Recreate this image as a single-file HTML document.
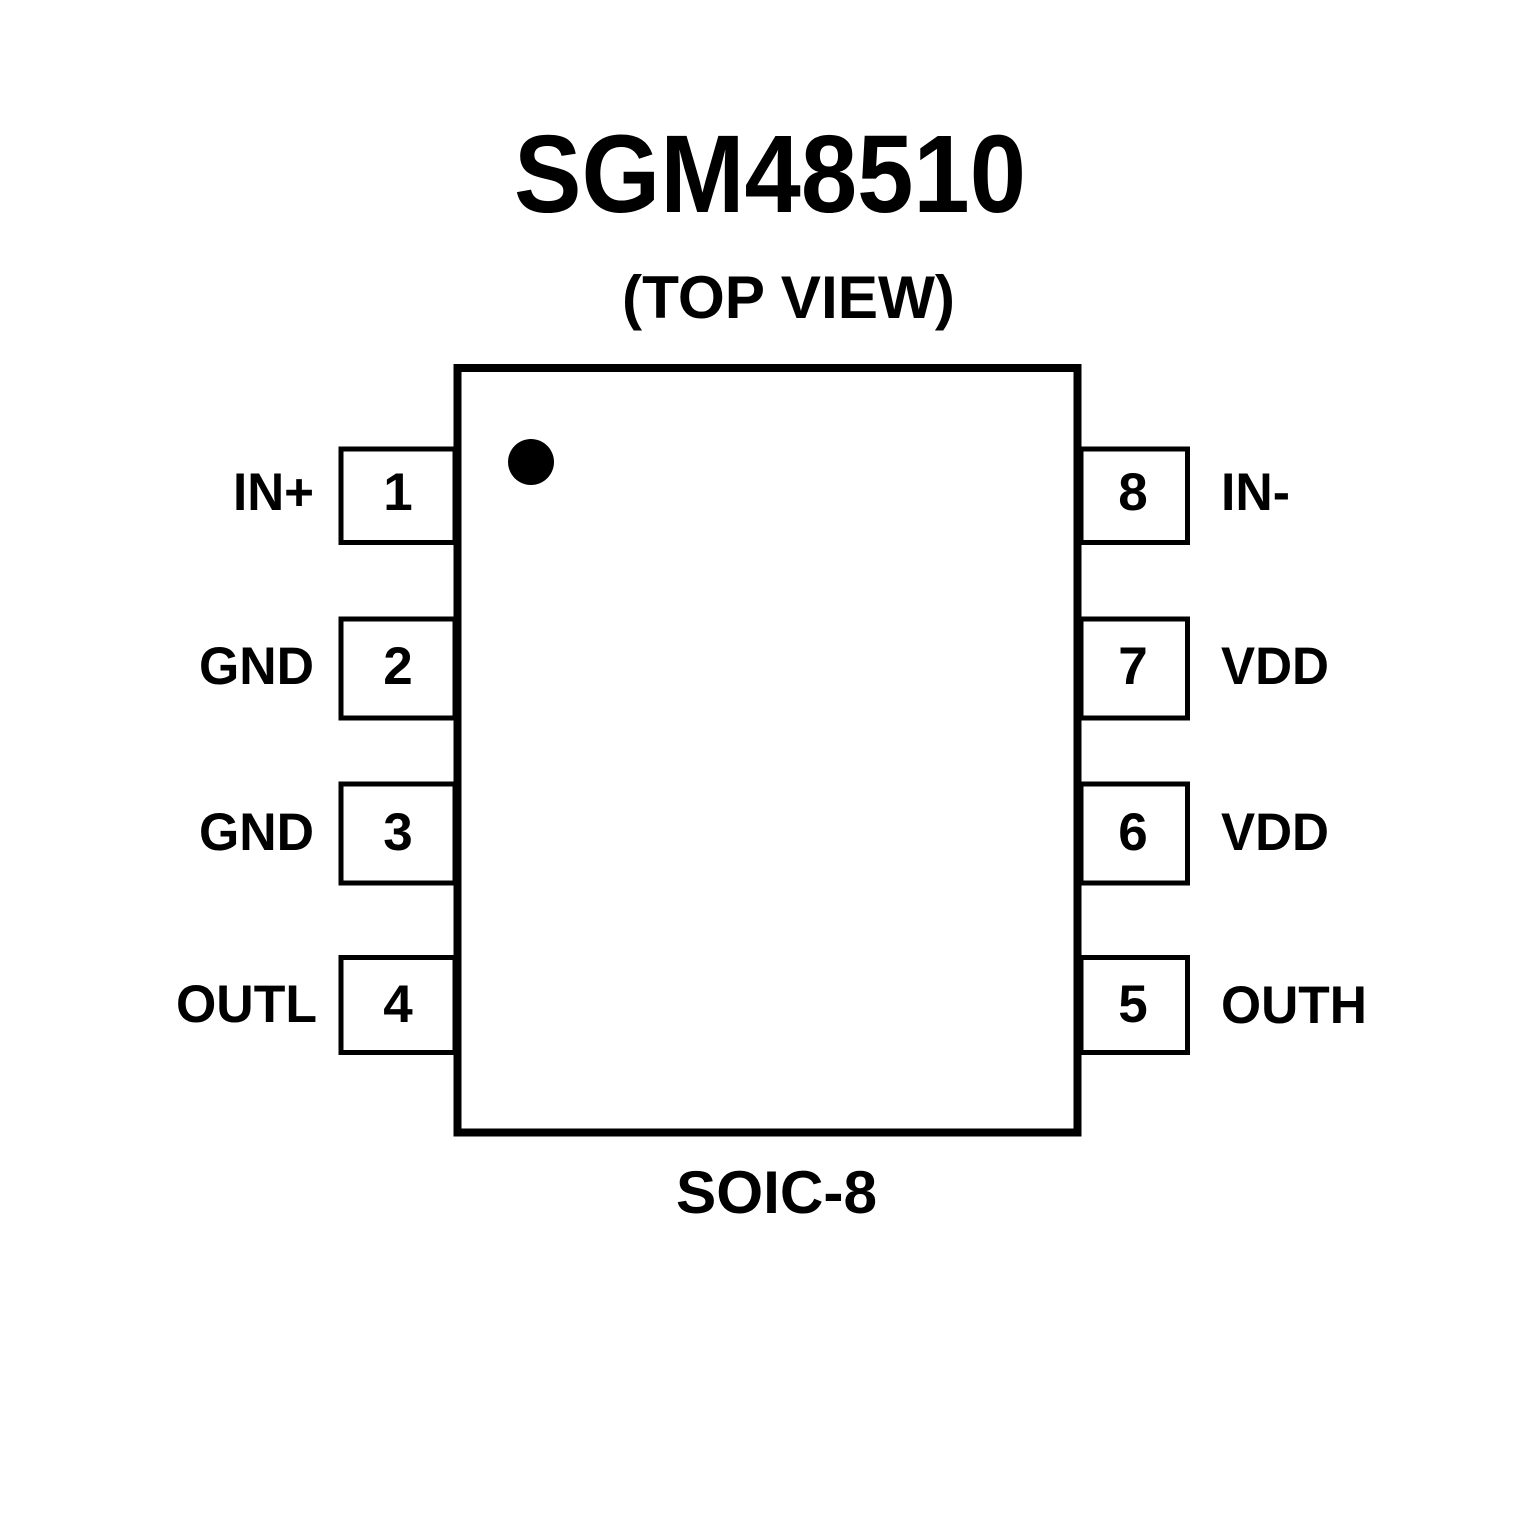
<!DOCTYPE html>
<html><head><style>html,body{margin:0;padding:0;background:#fff;}svg{display:block}</style></head>
<body>
<svg width="1535" height="1535" viewBox="0 0 1535 1535" xmlns="http://www.w3.org/2000/svg" font-family="Liberation Sans, Arial, sans-serif" font-weight="bold" fill="#000">
<rect x="0" y="0" width="1535" height="1535" fill="#fff"/>
<text x="514" y="212" font-size="110" textLength="512" lengthAdjust="spacingAndGlyphs">SGM48510</text>
<text x="622" y="318" font-size="60" textLength="333" lengthAdjust="spacingAndGlyphs">(TOP VIEW)</text>
<g fill="none" stroke="#000">
<rect x="457.5" y="368" width="620" height="764.5" stroke-width="8"/>
<g stroke-width="5">
<rect x="341" y="449" width="114" height="93.5"/>
<rect x="341" y="619" width="114" height="99"/>
<rect x="341" y="784" width="114" height="99"/>
<rect x="341" y="957.5" width="114" height="95"/>
<rect x="1081" y="449" width="106.5" height="93.5"/>
<rect x="1081" y="619" width="106.5" height="99"/>
<rect x="1081" y="784" width="106.5" height="99"/>
<rect x="1081" y="957.5" width="106.5" height="95"/>
</g>
</g>
<circle cx="531" cy="462" r="23"/>
<g font-size="53" text-anchor="middle">
<text x="398" y="510">1</text>
<text x="398" y="684">2</text>
<text x="398" y="850">3</text>
<text x="398" y="1022">4</text>
<text x="1133" y="510">8</text>
<text x="1133" y="684">7</text>
<text x="1133" y="850">6</text>
<text x="1133" y="1022">5</text>
</g>
<g font-size="53">
<text x="233" y="510" textLength="81" lengthAdjust="spacingAndGlyphs">IN+</text>
<text x="199" y="684" textLength="115" lengthAdjust="spacingAndGlyphs">GND</text>
<text x="199" y="850" textLength="115" lengthAdjust="spacingAndGlyphs">GND</text>
<text x="176" y="1022" textLength="141" lengthAdjust="spacingAndGlyphs">OUTL</text>
<text x="1221" y="510" textLength="69" lengthAdjust="spacingAndGlyphs">IN-</text>
<text x="1221" y="684" textLength="108" lengthAdjust="spacingAndGlyphs">VDD</text>
<text x="1221" y="850" textLength="108" lengthAdjust="spacingAndGlyphs">VDD</text>
<text x="1221" y="1023" textLength="146" lengthAdjust="spacingAndGlyphs">OUTH</text>
</g>
<text x="676" y="1213" font-size="60" textLength="201" lengthAdjust="spacingAndGlyphs">SOIC-8</text>
</svg>
</body></html>
